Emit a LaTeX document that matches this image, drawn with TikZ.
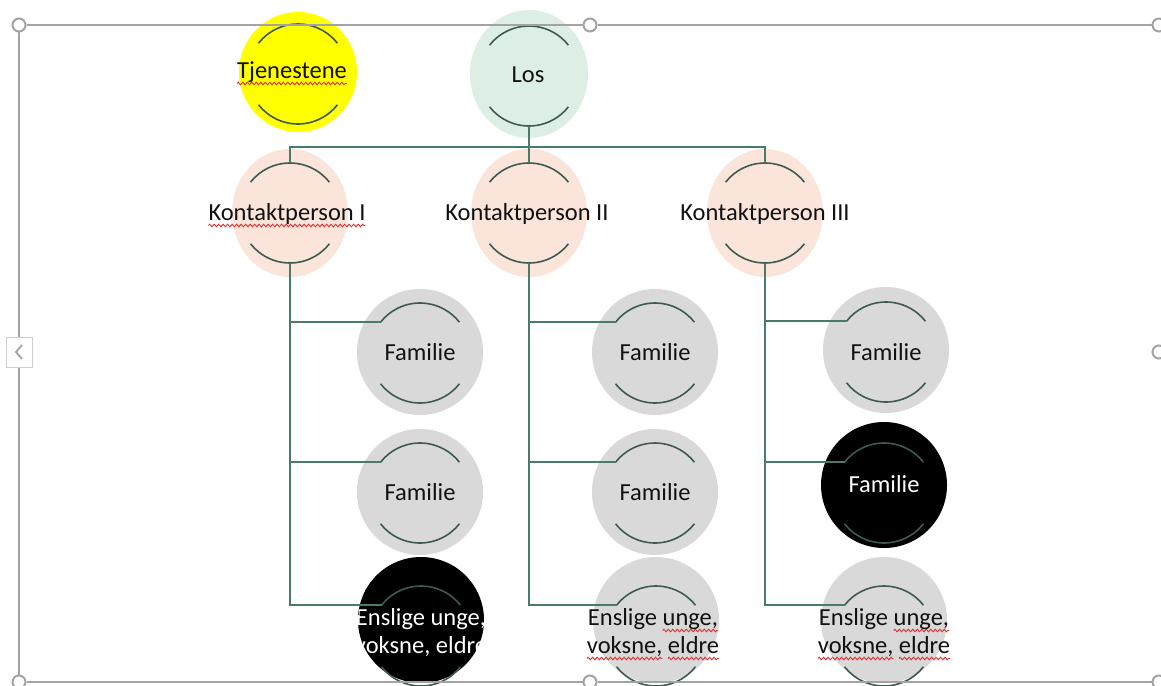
\documentclass[tikz,border=0pt]{standalone}
\usepackage{fontspec}
\setmainfont{Carlito}
\usetikzlibrary{shapes.geometric,decorations.pathmorphing}
\definecolor{connc}{HTML}{4A7A6B}
\definecolor{arcc}{HTML}{3E5A51}
\definecolor{mintc}{HTML}{DDEFE5}
\definecolor{peachc}{HTML}{FBE5DA}
\definecolor{grayc}{HTML}{D9D9D9}
\definecolor{yellowc}{HTML}{FFFF00}
\definecolor{framec}{HTML}{A3A3A3}
\definecolor{tabc}{HTML}{CFCFCF}
\definecolor{txtc}{HTML}{111111}
\definecolor{spellred}{HTML}{E03030}
\newcommand\sq[1]{\setbox0\hbox{#1}\rlap{\smash{\raisebox{-5.5pt}{\tikz[baseline=0pt,x=1pt,y=1pt]{\path[use as bounding box] (0,0);\draw[spellred,line width=0.9pt,decorate,decoration={zigzag,segment length=4.5pt,amplitude=1.3pt}] (0,0) -- (\wd0,0);}}}}\box0\relax}
\newcommand\arcpair[2]{%
  \path (#1.center) ++(0,#2) coordinate (#1-c);
  \draw[arcst] (#1-c) ++(142:50pt) coordinate (#1-in) arc[start angle=142,end angle=38,radius=50pt];
  \draw[arcst] (#1-c) ++(218:50pt) arc[start angle=218,end angle=322,radius=50pt];
  \path (#1-c) ++(90:50pt) coordinate (#1-top);
  \path (#1-c) ++(270:50pt) coordinate (#1-bot);
}
\begin{document}
\begin{tikzpicture}[x=1pt,y=-1pt,
  conn/.style={draw=connc,line width=1.6pt},
  arcst/.style={draw=arcc,line width=1.6pt},
  bub/.style={ellipse,inner sep=0pt,draw=none},
  fam/.style={circle,inner sep=0pt,draw=none,minimum size=126pt},
  txt/.style={font=\fontsize{24.5}{28}\selectfont,text=txtc,inner sep=0pt,anchor=base,align=center},
  handle/.style={circle,draw=framec,line width=2pt,fill=white,minimum size=13pt,inner sep=0pt},
  frame/.style={draw=framec,line width=1.6pt}]
\useasboundingbox (0,0) rectangle (1161,685);
\clip (0,0) rectangle (1161,685);
\fill[white] (0,0) rectangle (1161,685);

% shapes
\node[bub,fill=yellowc,minimum width=118pt,minimum height=120pt] (tj) at (298,72) {};
\node[bub,fill=mintc,minimum width=118pt,minimum height=128pt] (los) at (529,74) {};
\node[bub,fill=peachc,minimum width=116pt,minimum height=128pt] (k1) at (290,213) {};
\node[bub,fill=peachc,minimum width=116pt,minimum height=128pt] (k2) at (529,213) {};
\node[bub,fill=peachc,minimum width=116pt,minimum height=128pt] (k3) at (765,213) {};
\node[fam,fill=grayc] (f11) at (420,352) {};
\node[fam,fill=grayc] (f12) at (420,492) {};
\node[fam,fill=black] (f13) at (421,620) {};
\node[fam,fill=grayc] (f21) at (655,352) {};
\node[fam,fill=grayc] (f22) at (655,492) {};
\node[fam,fill=grayc] (f23) at (656,620) {};
\node[fam,fill=grayc] (f31) at (886,350) {};
\node[fam,fill=black] (f32) at (884,485) {};
\node[fam,fill=grayc] (f33) at (884,620) {};

% arcs
\arcpair{tj}{2}
\arcpair{los}{2}
\arcpair{k1}{0}
\arcpair{k2}{0}
\arcpair{k3}{0}
\arcpair{f11}{1}
\arcpair{f12}{1}
\arcpair{f13}{16}
\arcpair{f21}{1}
\arcpair{f22}{1}
\arcpair{f23}{16}
\arcpair{f31}{2}
\arcpair{f32}{8}
\arcpair{f33}{16}

% connectors
\coordinate (bus) at (529,147);
\draw[conn] (los-bot) -- (bus);
\draw[conn] (k1-top) -- (k1-top |- bus) -- (k3-top |- bus) -- (k3-top);
\draw[conn] (k2-top) -- (k2-top |- bus);
\draw[conn] (k1-bot) -- (k1-bot |- f13-in) -- (f13-in);
\draw[conn] (k1-bot |- f11-in) -- (f11-in);
\draw[conn] (k1-bot |- f12-in) -- (f12-in);
\draw[conn] (k2-bot) -- (k2-bot |- f23-in) -- (f23-in);
\draw[conn] (k2-bot |- f21-in) -- (f21-in);
\draw[conn] (k2-bot |- f22-in) -- (f22-in);
\draw[conn] (k3-bot) -- (k3-bot |- f33-in) -- (f33-in);
\draw[conn] (k3-bot |- f31-in) -- (f31-in);
\draw[conn] (k3-bot |- f32-in) -- (f32-in);

% texts
\node[txt] (tjt) at (292,78) {\sq{Tjenestene}};
\node[txt] (lost) at (528,82) {Los};
\node[txt] (k1t) at (287,220) {\sq{Kontaktperson I}};
\node[txt] (k2t) at (527,220) {Kontaktperson II};
\node[txt] (k3t) at (765,220) {Kontaktperson III};
\node[txt] (f11t) at (420,360) {Familie};
\node[txt] (f12t) at (420,500) {Familie};
\node[txt] (f21t) at (655,360) {Familie};
\node[txt] (f22t) at (655,500) {Familie};
\node[txt] (f31t) at (886,360) {Familie};
\node[txt,text=white] (f32t) at (884,492) {Familie};
\begin{scope}
  \clip (f13.center) circle[radius=63pt];
  \node[txt,text=white] (f13t) at (421,653) {Enslige unge,\\voksne, eldre};
\end{scope}
\node[txt] (f23t) at (653,653) {Enslige \sq{unge,}\\\sq{voksne,} \sq{eldre}};
\node[txt] (f33t) at (884,653) {Enslige \sq{unge,}\\\sq{voksne,} \sq{eldre}};

% selection frame
\node[handle] (h1) at (19,25) {};
\node[handle] (h2) at (590,25) {};
\node[handle] (h3) at (1159,25) {};
\node[handle] (h4) at (1159,352) {};
\node[handle] (h5) at (19,682) {};
\node[handle] (h6) at (590,682) {};
\node[handle] (h7) at (1159,682) {};
\node[rectangle,draw=tabc,line width=1pt,fill=white,minimum width=26pt,minimum height=30pt,inner sep=0pt] (tab) at (19,352) {};
\draw[frame] (h1) -- (h2);
\draw[frame] (h2) -- (h3);
\draw[frame] (h1) -- (tab);
\draw[frame] (tab) -- (h5);
\draw[frame] (h5) -- (h6);
\draw[frame] (h6) -- (h7);
\draw[framec,line width=1.8pt] ([xshift=3pt,yshift=7pt]tab.center) -- ([xshift=-3pt]tab.center) -- ([xshift=3pt,yshift=-7pt]tab.center);
\end{tikzpicture}
\end{document}
